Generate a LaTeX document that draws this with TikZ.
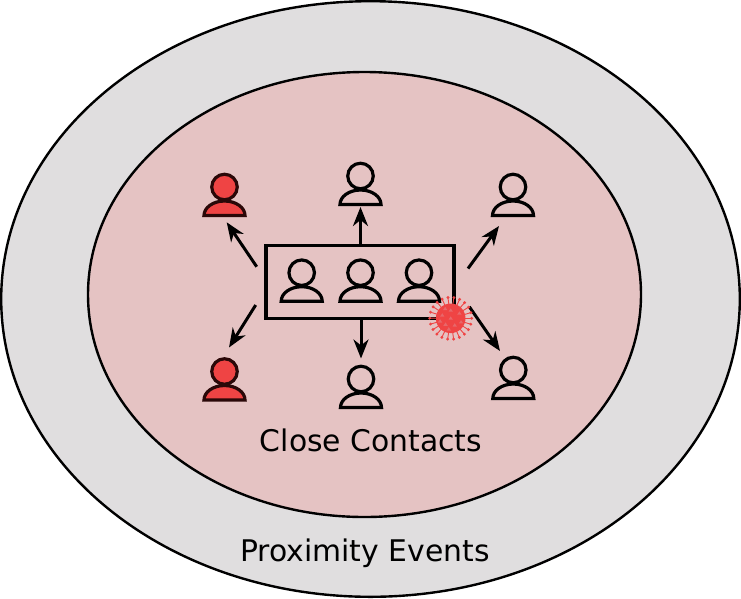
\documentclass[tikz,border=0pt]{standalone}
\usepackage{fontspec}
\setmainfont{DejaVu Sans}
\usetikzlibrary{arrows.meta}
\definecolor{outerfill}{HTML}{E0DEDF}
\definecolor{innerfill}{HTML}{E5C3C3}
\definecolor{virusred}{HTML}{EF4444}
\definecolor{viruslight}{HTML}{E8676A}
\definecolor{sickline}{HTML}{2A0808}
\tikzset{
  x=1pt, y=-1pt,
  zone/.style={draw=black, line width=2.4pt},
  caption/.style={font=\fontsize{29.8}{34}\selectfont, inner sep=0pt, anchor=base},
  group box/.style={draw=black, line width=3.2pt, minimum width=188pt, minimum height=73pt, inner sep=0pt},
  spread/.style={draw=black, line width=3pt, -{Stealth[length=19pt, width=15pt, inset=6pt]}},
  person line/.store in=\personline, person line=black,
  person fill/.store in=\personfill, person fill=none,
  person/.pic={
    \node[circle, draw=\personline, fill=\personfill, line width=3.2pt,
          minimum size=25.5pt, inner sep=0pt] (-head) at (0,0) {};
    \draw[draw=\personline, fill=\personfill, line width=3.2pt, line join=miter]
      (-20.5,28.5) arc[start angle=180, end angle=0, x radius=20.5, y radius=-14.5] -- cycle;
  },
  sick/.style={person line=sickline, person fill=virusred},
}
\begin{document}
\begin{tikzpicture}
  \useasboundingbox (0,0) rectangle (741,598);

  % nested zones
  \coordinate (outercentre) at (370.5,299);
  \draw[zone, fill=outerfill] (outercentre) ellipse[x radius=369.3, y radius=297.8];
  \coordinate (innercentre) at (364.5,294.5);
  \draw[zone, fill=innerfill] (innercentre) ellipse[x radius=276.5, y radius=222.5];

  % outer circle of contacts
  \pic[sick] (tl) at (224.5,187) {person};
  \pic (tc) at (360.5,176) {person};
  \pic (tr) at (513,187) {person};
  \pic[sick] (bl) at (224.5,371.5) {person};
  \pic (bc) at (361,379) {person};
  \pic (br) at (513.3,370) {person};

  % group sharing the space with the infected person
  \node[group box] (group) at (360,282) {};
  \pic (g1) at (301.7,272.7) {person};
  \pic (g2) at (360.5,272.7) {person};
  \pic (g3) at (419,272.7) {person};

  % connector ends
  \coordinate (a1s) at (256.7,266.7); \coordinate (a1e) at (226.7,222.3);
  \coordinate (a2s) at (360.5,245);   \coordinate (a2e) at (360.5,207);
  \coordinate (a3s) at (468,268.5);   \coordinate (a3e) at (499,226);
  \coordinate (a4s) at (255.7,305);   \coordinate (a4e) at (229,347.5);
  \coordinate (a5s) at (361,320);     \coordinate (a5e) at (361,358.5);
  \coordinate (a6s) at (469.3,306.7); \coordinate (a6e) at (500,351);
  \foreach \i in {1,...,6} \draw[spread] (a\i s) -- (a\i e);

  % virus particle
  \begin{scope}[shift={(450.7,318.3)}]
    \coordinate (virus) at (0,0);
    \foreach \a in {0,16.4,...,359} {
      \draw[virusred, line width=0.9pt] (0,0) -- (\a:20.5);
      \fill[virusred] (\a:21) circle[radius=1.6];
    }
    \fill[virusred] (virus) circle[radius=14.8];
    \foreach \p/\r in {0/0, 60/8, 130/8, 200/9, 270/8, 330/10, 20/11, 100/11, 165/11, 240/11} {
      \fill[viruslight] (\p:\r) ++(0,-2) -- ++(2.2,3.4) -- ++(-4.4,0) -- cycle;
    }
  \end{scope}

  % zone captions
  \node[caption] (close) at (371,451) {Close Contacts};
  \node[caption] (prox) at (365,561) {Proximity Events};
\end{tikzpicture}
\end{document}
